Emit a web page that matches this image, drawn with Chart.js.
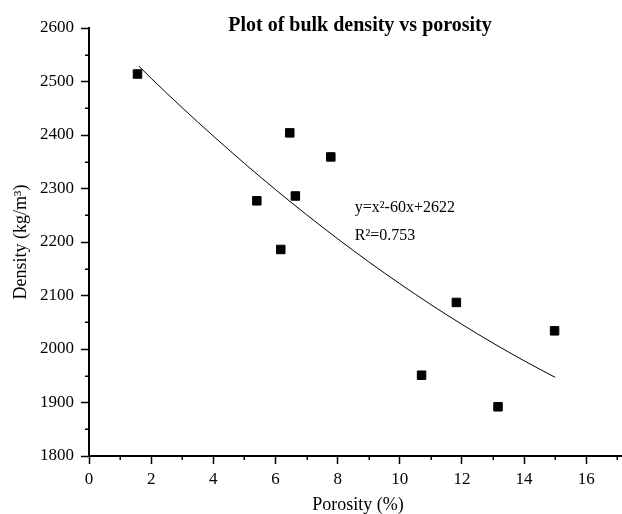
<!DOCTYPE html>
<html>
<head>
<meta charset="utf-8">
<script src="https://cdn.jsdelivr.net/npm/chart.js@4.4.1/dist/chart.umd.min.js"></script>
<style>
  html, body { margin: 0; padding: 0; overflow: hidden; background: #fff; }
  canvas { display: block; }
</style>
</head>
<body>
<canvas id="chart" width="634" height="514"></canvas>
<script>
// measured points
const porosity = [1.56, 5.40, 6.17, 6.46, 6.64, 7.78, 10.70, 11.82, 13.16, 14.98];
const density = [2514, 2277, 2186, 2404, 2286, 2359, 1951, 2087, 1892, 2034];

// fitted curve
const fitX = [1.6, 2, 3, 4, 5, 6, 7, 8, 9, 10, 11, 12, 13, 14, 15];
const fitY = [2529, 2506, 2451, 2398, 2347, 2298, 2251, 2206, 2163, 2122, 2083, 2046, 2011, 1978, 1947];

const minorX = [1, 3, 5, 7, 9, 11, 13, 15, 17];
const minorY = [1850, 1950, 2050, 2150, 2250, 2350, 2450, 2550];

const titleText = "Plot of bulk density vs porosity";
const fitLines = ["y=x\u00b2-60x+2622", "R\u00b2=0.753"];

const serif = "'Liberation Serif', 'Times New Roman', serif";

const extras = {
  id: "extras",
  afterDraw(chart) {
    const { ctx, chartArea, scales } = chart;
    const x = scales.x, y = scales.y;
    ctx.save();
    ctx.strokeStyle = "#000";
    ctx.lineWidth = 1.5;
    ctx.beginPath();
    minorX.forEach((v) => {
      const px = Math.round(x.getPixelForValue(v)) + 0.25;
      ctx.moveTo(px, chartArea.bottom);
      ctx.lineTo(px, chartArea.bottom + 4);
    });
    minorY.forEach((v) => {
      const py = Math.round(y.getPixelForValue(v)) + 0.25;
      ctx.moveTo(chartArea.left, py);
      ctx.lineTo(chartArea.left - 4, py);
    });
    ctx.stroke();

    ctx.fillStyle = "#000";
    ctx.textAlign = "center";
    ctx.textBaseline = "alphabetic";
    ctx.font = `bold 20px ${serif}`;
    ctx.fillText(titleText, (chartArea.left + chartArea.right) / 2 + 2, 31);

    ctx.textAlign = "left";
    ctx.textBaseline = "middle";
    ctx.font = `16px ${serif}`;
    ctx.fillText(fitLines[0], x.getPixelForValue(8.55), y.getPixelForValue(2264));
    ctx.fillText(fitLines[1], x.getPixelForValue(8.55), y.getPixelForValue(2212));
    ctx.restore();
  }
};

new Chart(document.getElementById("chart"), {
  type: "scatter",
  data: {
    datasets: [
      {
        label: "Density",
        data: porosity.map((v, i) => ({ x: v, y: density[i] })),
        pointStyle: "rect",
        pointRadius: 6,
        pointHoverRadius: 6,
        backgroundColor: "#000",
        borderColor: "#000",
        borderWidth: 1
      },
      {
        label: "Fit",
        type: "line",
        data: fitX.map((v, i) => ({ x: v, y: fitY[i] })),
        borderColor: "#000",
        borderWidth: 1,
        pointRadius: 0,
        fill: false,
        cubicInterpolationMode: "monotone"
      }
    ]
  },
  options: {
    responsive: false,
    animation: false,
    events: [],
    layout: { padding: { top: 28, right: 0, bottom: 0, left: 0 } },
    plugins: {
      legend: { display: false },
      tooltip: { enabled: false }
    },
    scales: {
      x: {
        type: "linear",
        min: 0,
        max: 17.31,
        bounds: "data",
        afterFit: (scale) => { scale.height = 58; },
        border: { display: true, color: "#000", width: 2 },
        grid: { drawOnChartArea: false, drawTicks: true, tickLength: 8, tickColor: "#000", tickWidth: 1.5 },
        ticks: {
          stepSize: 2,
          includeBounds: false,
          padding: 5,
          color: "#000",
          font: { family: serif, size: 17 },
          callback: (v) => String(v)
        },
        title: {
          display: true,
          text: "Porosity (%)",
          color: "#000",
          font: { family: serif, size: 18, lineHeight: 1 },
          padding: { top: 0, bottom: 0 }
        }
      },
      y: {
        type: "linear",
        min: 1800,
        max: 2600,
        afterFit: (scale) => { scale.width = 89; },
        border: { display: true, color: "#000", width: 2 },
        grid: { drawOnChartArea: false, drawTicks: true, tickLength: 8, tickColor: "#000", tickWidth: 1.5 },
        ticks: {
          stepSize: 100,
          padding: 7,
          color: "#000",
          font: { family: serif, size: 17 },
          callback: (v) => String(v)
        },
        title: {
          display: true,
          text: "Density (kg/m\u00b3)",
          color: "#000",
          font: { family: serif, size: 18, lineHeight: 1 },
          padding: { top: 12, bottom: 0 }
        }
      }
    }
  },
  plugins: [extras]
});
</script>
</body>
</html>
